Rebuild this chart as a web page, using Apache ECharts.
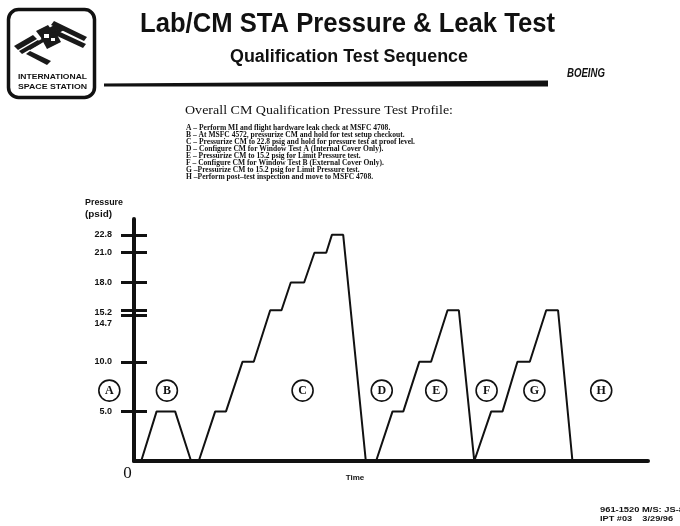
<!DOCTYPE html>
<html>
<head>
<meta charset="utf-8">
<script src="https://cdn.jsdelivr.net/npm/echarts@6/dist/echarts.min.js"></script>
<style>
  html, body { margin: 0; padding: 0; background: #fff; }
  #chart { width: 680px; height: 526px; }
</style>
</head>
<body>
<div id="chart"></div>
<script>
// Pressure profile of the CM qualification sequence (time in arbitrary units, pressure in psid)
const profileTime = [1.4, 4.4, 8.0, 11.1, 12.6, 15.8, 17.9, 21.1, 23.3, 26.5, 28.7, 30.5, 33.1, 35.1, 37.4, 38.5, 40.7, 45.1,
                     47.1, 50.3, 52.4, 55.5, 57.8, 61.0, 63.2, 66.2, 69.5, 71.7, 74.6, 77.0, 80.2, 82.5, 85.3];
const profilePressure = [0, 5, 5, 0, 0, 5, 5, 10, 10, 15.2, 15.2, 18, 18, 21, 21, 22.8, 22.8, 0,
                         0, 5, 5, 10, 10, 15.2, 15.2, 0, 5, 5, 10, 10, 15.2, 15.2, 0];

// Phase markers A-H along the time axis
const phaseLetters = ['A', 'B', 'C', 'D', 'E', 'F', 'G', 'H'];
const phaseTime = [-4.8, 6.4, 32.8, 48.2, 58.8, 68.6, 77.9, 90.9];
const phaseMarkerLevel = 7.1;

// Pressure levels marked on the vertical axis
const pressureTicks = [5.0, 10.0, 14.7, 15.2, 18.0, 21.0, 22.8];

const phaseNotes = [
  'A \u2013 Perform MI and flight hardware leak check at MSFC 4708.',
  'B \u2013 At MSFC 4572, pressurize CM and hold for test setup checkout.',
  'C \u2013 Pressurize CM to 22.8 psig and hold for pressure test at proof level.',
  'D \u2013 Configure CM for Window Test A (Internal Cover Only).',
  'E \u2013 Pressurize CM to 15.2 psig for Limit Pressure test.',
  'F \u2013 Configure CM for Window Test B (External Cover Only).',
  'G \u2013Pressurize CM to 15.2 psig for Limit Pressure test.',
  'H \u2013Perform post\u2013test inspection and move to MSFC 4708.'
];

const INK = '#111';
const SANS = '"Liberation Sans", Arial, Helvetica, sans-serif';
const SERIF = '"Liberation Serif", "Times New Roman", serif';

const measureCtx = document.createElement('canvas').getContext('2d');
function textWidth(text, font) {
  measureCtx.font = font;
  return measureCtx.measureText(text).width;
}

// Text element squeezed horizontally to a given width
function fittedText(text, x, y, width, size, family, weight, style) {
  const font = (style || 'normal') + ' ' + (weight || 'normal') + ' ' + size + 'px ' + family;
  const w = textWidth(text, font);
  return {
    type: 'text', x: x, y: y, scaleX: width / w, z: 10,
    style: {
      text: text, fill: INK, fontSize: size, fontFamily: family,
      fontWeight: weight || 'normal', fontStyle: style || 'normal',
      align: 'left', verticalAlign: 'middle'
    }
  };
}

const graphics = [];

// Station logo frame
graphics.push({
  type: 'rect', shape: { x: 8.5, y: 9.5, width: 86, height: 88, r: 10 },
  style: { fill: '#fff', stroke: INK, lineWidth: 3.5 }
});
// Station silhouette: solar arrays, truss and modules
const stationParts = [
  [[14, 46], [33, 35], [37, 39], [18, 50]],
  [[19, 51], [38, 40], [41, 43], [22, 54]],
  [[26, 54], [30, 51], [51, 61], [47, 65]],
  [[54, 21], [87, 37], [84, 41], [51, 25]],
  [[58, 31], [86, 44], [83, 48], [55, 35]],
  [[28, 47], [62, 27], [64, 30], [30, 50]],
  [[36, 31], [48, 25], [54, 33], [42, 39]],
  [[41, 38], [55, 31], [61, 42], [47, 49]],
  [[49, 28], [56, 24], [60, 29], [53, 33]]
];
stationParts.forEach(function (pts) {
  graphics.push({ type: 'polygon', shape: { points: pts }, style: { fill: '#1a1a1a' } });
});
graphics.push({ type: 'rect', shape: { x: 44, y: 34, width: 5, height: 4 }, style: { fill: '#fff' }, z: 2 });
graphics.push({ type: 'rect', shape: { x: 51, y: 38, width: 4, height: 3 }, style: { fill: '#fff' }, z: 2 });
graphics.push(fittedText('INTERNATIONAL', 18, 77, 69, 8, SANS, 'bold'));
graphics.push(fittedText('SPACE STATION', 18, 87, 69, 8, SANS, 'bold'));

// Header
graphics.push(fittedText('Lab/CM STA Pressure & Leak Test', 140, 25, 415, 27, SANS, 'bold'));
graphics.push(fittedText('Qualification Test Sequence', 230, 57, 238, 18, SANS, 'bold'));
graphics.push(fittedText('BOEING', 567, 73, 38, 13, SANS, 'bold', 'italic'));
graphics.push({
  type: 'polygon',
  shape: { points: [[104, 83.5], [548, 80.5], [548, 86.5], [104, 86.5]] },
  style: { fill: INK }
});

// Legend block
graphics.push(fittedText('Overall CM Qualification Pressure Test Profile:', 185, 111, 268, 13, SERIF, 'normal'));
const noteFont = 'normal bold 8px ' + SERIF;
const noteScale = 229 / textWidth(phaseNotes[2], noteFont);
phaseNotes.forEach(function (t, i) {
  graphics.push({
    type: 'text', x: 186, y: 128.3 + i * 6.9, scaleX: noteScale, z: 10,
    style: { text: t, fill: INK, fontSize: 8, fontFamily: SERIF, fontWeight: 'bold', verticalAlign: 'middle' }
  });
});

// Axis title
graphics.push(fittedText('Pressure', 85, 203, 38, 9, SANS, 'bold'));
graphics.push(fittedText('(psid)', 85, 215, 27, 9, SANS, 'bold'));

// Document reference
graphics.push(fittedText('961-1520 M/S: JS-8', 600, 510, 84, 7.5, SANS, 'bold'));
graphics.push(fittedText('IPT #03    3/29/96', 600, 519, 73, 7.5, SANS, 'bold'));

const profileData = profileTime.map(function (t, i) { return [t, profilePressure[i]]; });
const phaseData = phaseTime.map(function (t, i) { return { value: [t, phaseMarkerLevel], name: phaseLetters[i] }; });

const yCommon = { type: 'value', min: 0, max: 24.4, splitLine: { show: false } };

const chart = echarts.init(document.getElementById('chart'), null, { renderer: 'canvas' });
chart.setOption({
  backgroundColor: '#fff',
  animation: false,
  grid: { left: 134, right: 32, top: 219, bottom: 65, outerBoundsMode: 'none' },
  xAxis: {
    type: 'value', min: 0, max: 100,
    splitLine: { show: false },
    axisLine: { show: true, lineStyle: { color: INK, width: 4 } },
    axisTick: { show: false },
    axisLabel: {
      customValues: [0], formatter: function () { return '0'; },
      fontFamily: SERIF, fontSize: 17, color: INK, margin: 4, padding: [0, 13, 0, 0]
    },
    name: 'Time', nameLocation: 'middle', nameGap: 13, nameMoveOverlap: false,
    nameTextStyle: { fontFamily: SANS, fontWeight: 'bold', fontSize: 8, color: INK, padding: [0, 72, 0, 0] }
  },
  yAxis: [
    Object.assign({}, yCommon, {
      position: 'left',
      axisLine: { show: true, onZero: false, lineStyle: { color: INK, width: 4 } },
      axisTick: { show: true, inside: false, length: 13, customValues: pressureTicks, lineStyle: { color: INK, width: 3 } },
      axisLabel: {
        customValues: pressureTicks, margin: 22, color: INK, fontFamily: SANS, fontWeight: 'bold', fontSize: 9,
        formatter: function (v) {
          const s = v.toFixed(1);
          if (Math.abs(v - 14.7) < 0.01) return '{lo|' + s + '}';
          if (Math.abs(v - 15.2) < 0.01) return '{hi|' + s + '}';
          return s;
        },
        rich: {
          lo: { fontFamily: SANS, fontWeight: 'bold', fontSize: 9, color: INK, padding: [16, 0, 0, 0] },
          hi: { fontFamily: SANS, fontWeight: 'bold', fontSize: 9, color: INK, padding: [4, 0, 0, 0] }
        }
      }
    }),
    Object.assign({}, yCommon, {
      position: 'left',
      axisLine: { show: false },
      axisTick: { show: true, inside: true, length: 13, customValues: pressureTicks, lineStyle: { color: INK, width: 3 } },
      axisLabel: { show: false }
    })
  ],
  series: [
    {
      type: 'line', data: profileData, symbol: 'none', z: 3,
      lineStyle: { color: INK, width: 2 }
    },
    {
      type: 'scatter', data: phaseData, clip: false, z: 4,
      symbol: 'circle', symbolSize: 21,
      itemStyle: { color: '#fff', borderColor: INK, borderWidth: 1.6, opacity: 1 },
      label: {
        show: true, position: 'inside', formatter: '{b}',
        fontFamily: SERIF, fontSize: 12, fontWeight: 'bold', color: INK
      },
      emphasis: { disabled: true }
    }
  ],
  graphic: graphics
});
</script>
</body>
</html>
